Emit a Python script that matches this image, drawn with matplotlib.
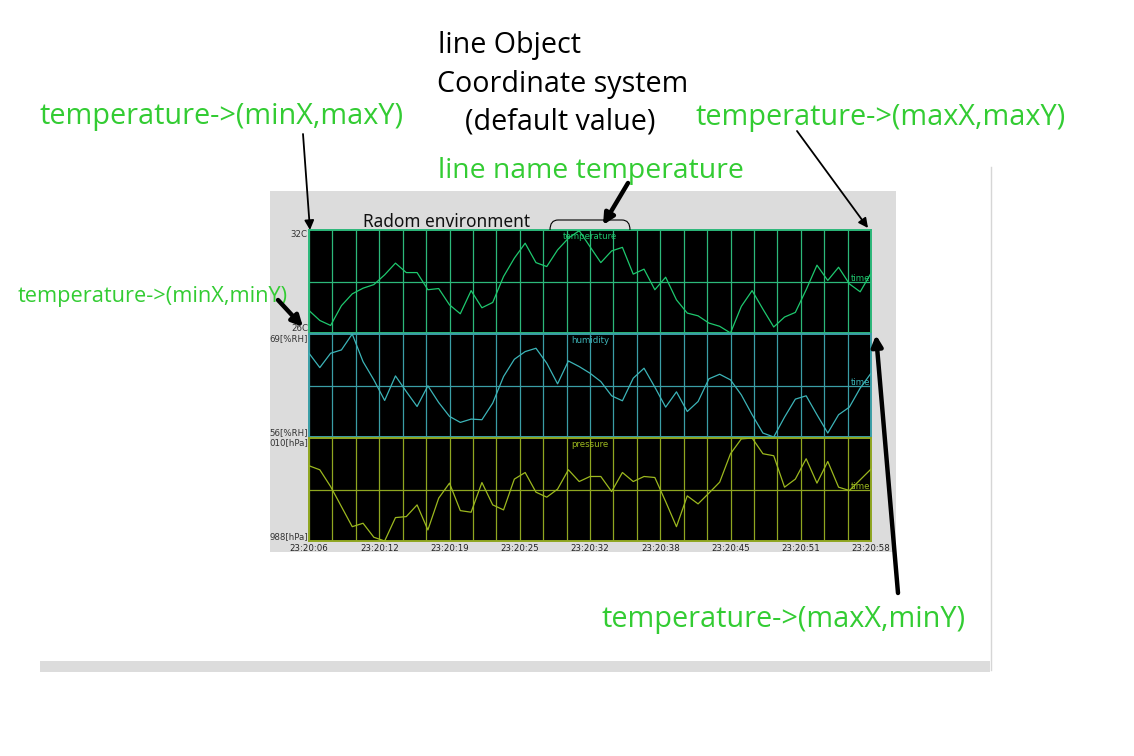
import numpy as np
import matplotlib.pyplot as plt
from matplotlib.patches import Rectangle, PathPatch
from matplotlib.path import Path

# one sample per second, 23:20:06 .. 23:20:58
seconds = np.arange(53)
time_labels = ["23:20:06", "23:20:12", "23:20:19", "23:20:25", "23:20:32",
               "23:20:38", "23:20:45", "23:20:51", "23:20:58"]

temperature = [27.31, 26.73, 26.44, 27.59, 28.28, 28.61, 28.82, 29.39, 30.07, 29.52,
               29.52, 28.52, 28.59, 27.64, 27.12, 28.47, 27.47, 27.78, 29.29, 30.36,
               31.23, 30.10, 29.87, 30.84, 31.52, 31.96, 31.03, 30.10, 30.78, 30.99,
               29.43, 29.72, 28.52, 29.25, 27.93, 27.16, 27.00, 26.58, 26.39, 26.00,
               27.55, 28.47, 27.39, 26.35, 26.93, 27.20, 28.52, 29.95, 29.06, 29.83,
               28.86, 28.40, 29.48]
humidity = [66.57, 64.76, 66.57, 66.99, 69.00, 65.51, 63.21, 60.61, 63.71, 61.74,
            59.85, 62.46, 60.35, 58.60, 57.84, 58.26, 58.18, 60.28, 63.63, 65.81,
            66.78, 67.20, 65.31, 62.71, 65.60, 64.89, 64.05, 63.00, 61.20, 60.57,
            63.42, 64.68, 62.29, 59.77, 61.70, 59.22, 60.48, 63.34, 63.92, 63.21,
            61.32, 58.81, 56.50, 56.00, 58.51, 60.78, 61.20, 58.81, 56.50, 58.81,
            59.77, 62.17, 64.05]
pressure = [1004.07, 1003.21, 999.63, 995.35, 991.06, 991.79, 988.80, 988.00, 993.00, 993.21,
            995.71, 990.36, 997.15, 1000.36, 994.49, 994.15, 1000.49, 995.71, 994.64, 1001.22,
            1002.63, 998.43, 997.36, 999.08, 1003.21, 1000.70, 1001.78, 1001.78, 998.56, 1002.63,
            1000.70, 1001.78, 1001.56, 996.42, 991.06, 997.64, 995.93, 998.22, 1000.57, 1006.64,
            1009.80, 1010.00, 1006.64, 1006.21, 999.50, 1001.22, 1005.57, 1000.36, 1004.99, 999.50,
            998.78, 1001.07, 1003.36]

W, H = 1134, 756
fig = plt.figure(figsize=(W / 100, H / 100), dpi=100)
fig.patch.set_facecolor("white")

# background layer in pixel coordinates
bg = fig.add_axes([0, 0, 1, 1], zorder=0)
bg.set_xlim(0, W)
bg.set_ylim(H, 0)
bg.axis("off")
bg.add_patch(Rectangle((270, 191), 626, 361, color="#dcdcdc", lw=0))
bg.add_patch(Rectangle((40, 661), 950, 11, color="#dcdcdc", lw=0))
bg.plot([991, 991], [167, 670], color="#d6d6d6", lw=1)


def px_axes(x0, y0, x1, y1):
    return fig.add_axes([x0 / W, 1 - y1 / H, (x1 - x0) / W, (y1 - y0) / H], zorder=2)


def draw_panel(ax, values, lo, hi, lo_label, hi_label, name, line_color, grid_color, bottom):
    ax.set_facecolor("black")
    ax.plot(seconds, values, color=line_color, lw=0.9, zorder=3)
    ax.set_xlim(0, 52)
    ax.set_ylim(lo, hi)
    ticks = np.linspace(0, 52, 25)
    ax.set_xticks(ticks)
    ax.set_yticks([(lo + hi) / 2])
    ax.grid(True, color=grid_color, lw=0.9)
    ax.tick_params(length=0, labelleft=False, labelbottom=bottom, pad=2,
                   labelsize=6.2, labelcolor="#222222")
    if bottom:
        ax.set_xticklabels([time_labels[i // 3] if i % 3 == 0 else "" for i in range(25)])
    for s in ax.spines.values():
        s.set_color(grid_color)
        s.set_linewidth(1.4)
    ax.text(-0.002, 1, hi_label, transform=ax.transAxes, ha="right", va="top",
            fontsize=6.2, color="#333333")
    ax.text(-0.002, 0, lo_label, transform=ax.transAxes, ha="right", va="bottom",
            fontsize=6.2, color="#333333")
    ax.text(0.5, 0.985, name, transform=ax.transAxes, ha="center", va="top",
            fontsize=6.2, color=line_color)
    ax.text(0.999, 0.505, "time", transform=ax.transAxes, ha="right", va="baseline",
            fontsize=6.2, color=line_color)


ax_t = px_axes(309, 230, 871, 333)
draw_panel(ax_t, temperature, 26, 32, "26C", "32C", "temperature",
           "#1ec86e", "#2cb87a", False)
ax_h = px_axes(309, 334, 871, 437)
draw_panel(ax_h, humidity, 56, 69, "56[%RH]", "69[%RH]", "humidity",
           "#3cb4b8", "#3a9ea6", False)
ax_p = px_axes(309, 438, 871, 541)
draw_panel(ax_p, pressure, 988, 1010, "988[hPa]", "010[hPa]", "pressure",
           "#9cb81e", "#8fa620", True)

# annotation layer
top = fig.add_axes([0, 0, 1, 1], zorder=5)
top.set_xlim(0, W)
top.set_ylim(H, 0)
top.axis("off")
top.patch.set_alpha(0)

top.text(363, 227, "Radom environment", fontsize=12.4, family="Noto Sans",
         color="#111111", va="baseline")
bracket = Path([(550, 230), (550, 220), (558, 220), (622, 220), (630, 220), (630, 230)],
               [Path.MOVETO, Path.CURVE3, Path.CURVE3, Path.LINETO, Path.CURVE3, Path.CURVE3])
top.add_patch(PathPatch(bracket, fill=False, color="black", lw=0.8))

green = "#33cc33"
big = 20.8
top.text(438, 53, "line Object", fontsize=20.6, family="Open Sans", color="black", va="baseline")
top.text(437, 92, "Coordinate system", fontsize=20.6, family="Open Sans", color="black", va="baseline")
top.text(465, 130, "(default value)", fontsize=20.6, family="Open Sans", color="black", va="baseline")
top.text(438, 178, "line name temperature", fontsize=20.4, family="Open Sans", color=green, va="baseline")
top.text(40, 124, "temperature->(minX,maxY)", fontsize=big, family="Open Sans", color=green, va="baseline")
top.text(695, 125, "temperature->(maxX,maxY)", fontsize=big, family="Open Sans", color=green, va="baseline")
top.text(18, 302, "temperature->(minX,minY)", fontsize=15.7, family="Open Sans", color=green, va="baseline")
top.text(602, 627, "temperature->(maxX,minY)", fontsize=big, family="Open Sans", color=green, va="baseline")

thin = dict(arrowstyle="-|>", color="black", lw=1.3, mutation_scale=14, shrinkA=0, shrinkB=0)
thick = dict(arrowstyle="-|>", color="black", lw=3.2, mutation_scale=16, shrinkA=0, shrinkB=0)
top.annotate("", xy=(310, 230), xytext=(303, 134), arrowprops=thin)
top.annotate("", xy=(868, 228), xytext=(797, 131), arrowprops=thin)
top.annotate("", xy=(303, 327), xytext=(278, 300), arrowprops=thick)
top.annotate("", xy=(603, 225), xytext=(628, 183), arrowprops=thick)
top.annotate("", xy=(876, 335), xytext=(898, 593), arrowprops=thick)

fig.savefig("out.png", dpi=100)
